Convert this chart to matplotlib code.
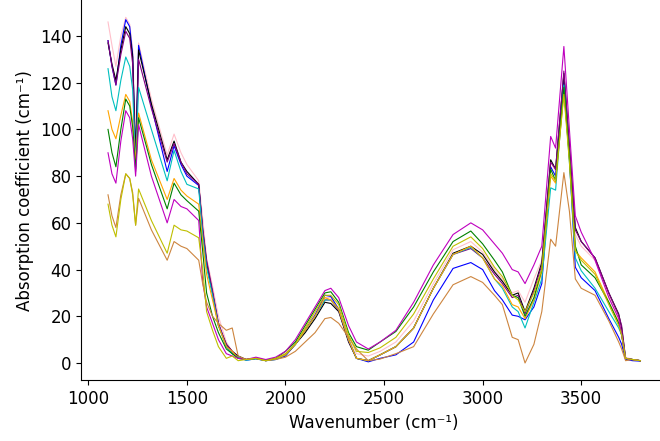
import matplotlib
matplotlib.use("Agg")
import matplotlib.pyplot as plt

# shared wavenumber grid (cm^-1)
wavenumber = [1100, 1120, 1140, 1165, 1190, 1210, 1225, 1240, 1255, 1320, 1400, 1435,
              1470, 1500, 1560, 1580, 1600, 1630, 1660, 1700, 1730, 1760, 1800, 1850,
              1900, 1950, 2000, 2050, 2100, 2150, 2200, 2230, 2270, 2320, 2360, 2420,
              2480, 2560, 2650, 2750, 2850, 2940, 3000, 3060, 3100, 3150, 3180, 3215,
              3260, 3300, 3345, 3370, 3412, 3440, 3470, 3500, 3570, 3640, 3690, 3705,
              3725, 3760, 3800]

pink = [146, 136, 127, 140, 148, 145, 134, 95, 137, 113, 89, 98,
        90, 85, 78, 62, 45, 33, 20, 9, 5, 3, 1.5, 2.2,
        1.2, 2, 4, 8.5, 14.5, 21, 28, 28, 23.5, 11, 4, 3,
        5, 9, 18, 34, 48.5, 52, 47.5, 40, 36, 30, 31, 26,
        36, 44, 86, 82, 122, 92, 55, 50, 44, 29, 20, 13,
        2.5, 1.5, 1]
blue = [138, 127, 119, 136, 147, 144, 132, 86, 136, 110, 82, 93,
        85, 80, 76, 56, 42, 30, 17, 7, 4, 2.5, 1.2, 1.8,
        1, 1.5, 3, 8, 14, 20.5, 29, 28.5, 23, 10, 2, 0.5,
        2, 3.5, 9, 27, 40.5, 43, 40, 31, 27, 20.5, 20, 18.5,
        24, 34, 84, 80, 121, 88, 41, 36.5, 31, 19, 11, 8,
        1.5, 1, 0.8]
black = [137, 128, 121, 134, 144, 141, 131, 88, 134, 111, 87, 95,
         86, 82, 76.5, 57, 43, 30, 16, 8, 5, 3, 1.5, 2,
         1, 1.8, 3.5, 8, 13, 19, 26, 25.5, 22, 9, 2, 1,
         3.5, 7, 15, 32, 47, 50, 46.5, 39, 35, 29, 30, 22,
         32, 43, 87, 83, 124, 93, 58, 52, 45, 30, 21, 15,
         2, 1.5, 1]
purple = [138, 127, 119, 132, 142, 139, 128, 82, 130, 109, 86, 94,
          86, 81, 76.5, 58, 44, 31, 17, 8, 5, 2.5, 1.5, 2,
          1.2, 1.8, 3.5, 8, 14, 20, 27, 27, 22.5, 9.5, 2, 1,
          3.5, 7, 15, 32, 46.5, 49, 45, 38, 34, 28, 29, 21,
          31, 42, 86, 83, 125, 93, 57, 52, 45, 30, 20.5, 16,
          2, 1.5, 1]
cyan = [126, 114, 108, 121, 131, 127, 117, 84, 118, 100, 78, 91,
        82, 76.5, 74.5, 55, 41, 29, 16, 7, 4, 2.5, 1.2, 1.8,
        1, 1.5, 3.5, 8, 14, 20, 27, 27, 23, 10, 2, 1,
        3.5, 7, 15, 32, 46.5, 49.5, 45, 36, 32, 24, 22, 15,
        26, 36, 75, 74, 119, 86, 45, 39.5, 32, 22, 15, 12,
        2, 1.5, 1]
orange = [108, 100, 96, 106, 115, 112, 103, 86, 107, 87, 70, 79,
          74, 71.5, 68, 52, 38, 27, 16, 7, 5, 2, 1.5, 2,
          1, 1.8, 3.5, 8, 14, 20, 28, 27, 23, 10, 2, 1,
          3.5, 7, 15, 32, 46.5, 50, 45, 36, 33, 25, 24, 19,
          27, 39, 80, 77, 116, 88, 48, 45, 39, 26, 17.5, 12,
          2, 1.5, 1]
green = [100, 90, 84, 100, 113, 110, 101, 83, 105, 85, 66, 77,
         72, 69.5, 65, 48, 30, 20, 13, 6, 4, 2, 1.5, 2,
         1.2, 2, 5, 9, 16, 23, 30, 30.5, 26, 13, 7, 5.5,
         9, 13.5, 24, 39, 52, 56.5, 51, 44, 39, 29, 28, 20,
         28, 40, 83, 78, 118, 88, 50, 42, 36.5, 26, 17, 12,
         2, 1.5, 1]
magenta = [90, 81, 77, 95, 108, 105, 96, 80, 102, 80, 60, 70,
           67, 66, 61, 35, 24, 17, 10, 4, 3, 2, 1.5, 2.5,
           1.5, 2.5, 5, 10, 17, 24, 31, 32, 28, 16, 9, 6,
           9, 14, 26, 42, 55, 60, 57, 51, 47, 40, 39, 34,
           42, 50, 97, 92, 135.5, 100, 63, 56, 44, 28, 19, 12,
           2, 1.5, 1]
peru = [72, 63, 58, 72, 81, 79, 73, 59, 70.5, 57, 44, 52,
        50, 49, 44, 34, 26, 20, 17, 14, 15, 3, 1.5, 2,
        1, 1.5, 2.5, 5, 9, 13, 19, 19.5, 17, 11, 6, 1,
        1.7, 4, 7, 21, 33.5, 37, 34.5, 29, 25, 11, 10, 0,
        8, 22, 53, 50, 81.5, 65, 36, 32, 29, 18, 9, 6,
        1, 1.5, 1]
yellow = [68, 59, 54, 70, 81, 79, 72, 59, 74.5, 61, 47, 59,
          57, 56.5, 53.6, 40, 22, 14, 7, 2, 3, 1, 1.5, 2,
          1, 2, 4, 8, 15, 22, 29, 29, 25, 12, 5, 4.5,
          6.5, 11, 21, 36, 50, 54, 49, 41, 37, 29, 27, 22,
          30, 40, 81, 78, 115, 86, 48, 44, 38, 25, 16, 12,
          2, 1.5, 1]

spectra = [pink, blue, black, purple, cyan, orange, green, magenta, peru, yellow]
colors = ['pink', 'blue', 'black', 'purple', 'c', 'orange', 'g', 'm', 'peru', 'y']

fig = plt.figure(figsize=(6.6, 4.41), dpi=100)
# the reference is cropped just past the right end of the x axis
ax = fig.add_axes([81.4 / 660, 60.7 / 441, 585.6 / 660, 380.3 / 441])

for values, color in zip(spectra, colors):
    ax.plot(wavenumber, values, color=color, linewidth=0.8)

ax.spines['top'].set_visible(False)
ax.spines['right'].set_visible(False)
ax.set_xlabel('Wavenumber (cm⁻¹)', fontsize=12)
ax.set_ylabel('Absorption coefficient (cm⁻¹)', fontsize=12)
ax.tick_params(labelsize=12)

fig.savefig('out.png', dpi=100)
